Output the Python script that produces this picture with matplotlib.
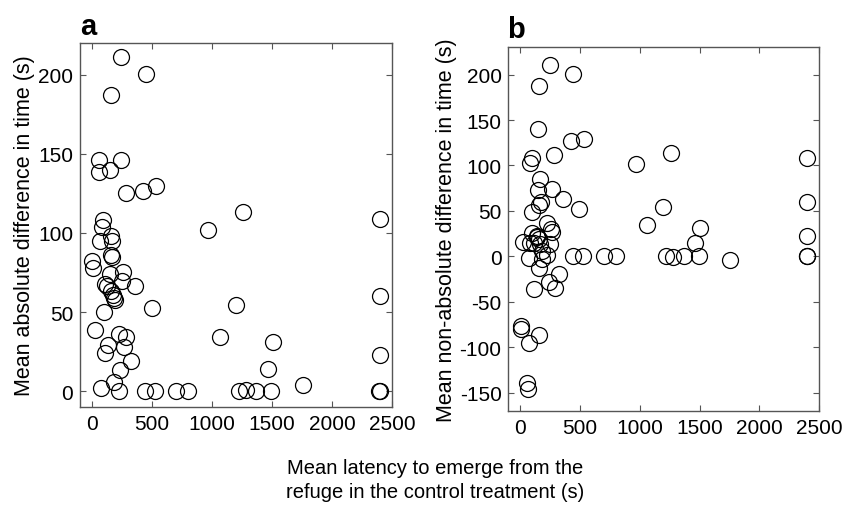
import matplotlib
matplotlib.use("Agg")
import matplotlib.pyplot as plt

plt.rcParams['font.family'] = ['Liberation Sans', 'DejaVu Sans']
plt.rcParams['axes.unicode_minus'] = False

# panel a: mean absolute difference
a_x = [244, 447, 161, 61, 241, 58, 147, 283, 428, 536, 1261,
       94, 86, 67, 158, 163, 158, 164, 3, 11, 150, 261, 247, 108, 125, 358,
       161, 175, 186, 194, 97, 497, 969, 1202,
       27, 222, 286, 130, 105, 269, 328, 236, 180, 78,
       222, 444, 522, 703, 800, 1064, 1222, 1283, 1369, 1492, 1467, 1505, 1755,
       2400, 2400, 2400, 2400, 2395]
a_y = [211, 200.5, 187, 146, 146, 138.5, 140, 125, 126.6, 129.4, 113,
       108, 103.6, 94.6, 98, 95, 86, 84.6, 82, 77.7, 73.9, 75.6, 69.9, 68, 66.7, 66.5,
       63.3, 61, 58.7, 57.6, 50, 52.3, 102, 54.5,
       38.6, 36, 34.4, 29, 24.3, 28, 19, 13.3, 6, 2.3,
       0, 0, 0, 0, 0, 34.4, 0, 1, 0, 0, 14, 31, 4.2,
       109, 60, 23, 0, 0]

# panel b: mean non-absolute difference
b_x = [244, 444, 158, 144, 422, 533, 278, 97, 83, 964, 1258,
       161, 147, 264, 153, 175, 353, 492, 97, 1194,
       1061, 1500, 1464, 222, 258, 264, 97, 139, 19, 250, 111, 83, 167, 153, 139,
       181, 222, 69, 181, 153, 319, 236, 286, 111,
       439, 522, 703, 800, 1217, 1278, 1367, 1494, 1750,
       8, 6, 153, 69, 56, 61,
       2400, 2400, 2400, 2400, 2395]
b_y = [211, 200.7, 187, 140, 127, 129.6, 112, 108.7, 102.4, 102, 113.4,
       84.8, 73, 74.5, 57, 60, 62.7, 52.5, 48.8, 54.7,
       34, 31.6, 14.3, 37, 29.7, 27, 25.3, 21.7, 16, 13.2, 15, 15, 13.2, 18.7, 22.4,
       5.9, 1, -1.5, -3.3, -12.5, -19.8, -28, -34.5, -35.6,
       0, 0, 0, 0, 0, -0.7, 0, 0, -4.4,
       -76.7, -80, -86, -95, -139, -146,
       108.7, 60, 22.4, 0, 0]

fig = plt.figure(figsize=(8.56, 5.06), dpi=100)
ax_a = fig.add_axes([0.0935, 0.1937, 0.3645, 0.7193])
ax_b = fig.add_axes([0.594, 0.186, 0.363, 0.7185])

marker_style = dict(marker='o', linestyle='none', markersize=11.5,
                    markerfacecolor='none', markeredgecolor='black',
                    markeredgewidth=0.9)

ax_a.plot(a_x, a_y, **marker_style)
ax_b.plot(b_x, b_y, **marker_style)

ax_a.set_xlim(-100, 2500)
ax_a.set_ylim(-10, 220)
ax_a.set_yticks([0, 50, 100, 150, 200])
ax_b.set_xlim(-100, 2500)
ax_b.set_ylim(-170, 230)
ax_b.set_yticks([-150, -100, -50, 0, 50, 100, 150, 200])

for ax in (ax_a, ax_b):
    ax.set_xticks([0, 500, 1000, 1500, 2000, 2500])
    ax.tick_params(direction='in', top=True, right=True, length=4,
                   width=0.8, color='#555555', labelsize=15, pad=5)
    for sp in ax.spines.values():
        sp.set_color('#555555')
        sp.set_linewidth(1.0)

ax_a.set_ylabel('Mean absolute difference in time (s)', fontsize=15.5, labelpad=2)
ax_b.set_ylabel('Mean non-absolute difference in time (s)', fontsize=15.5, labelpad=2)

fig.text(0.0935, 0.931, 'a', fontsize=21, fontweight='bold', ha='left', va='baseline')
fig.text(0.592, 0.925, 'b', fontsize=21, fontweight='bold', ha='left', va='baseline')

fig.text(0.508, 0.008, 'Mean latency to emerge from the\nrefuge in the control treatment (s)',
         ha='center', va='bottom', fontsize=14.5, linespacing=1.35)

fig.savefig('out.png', dpi=100)
